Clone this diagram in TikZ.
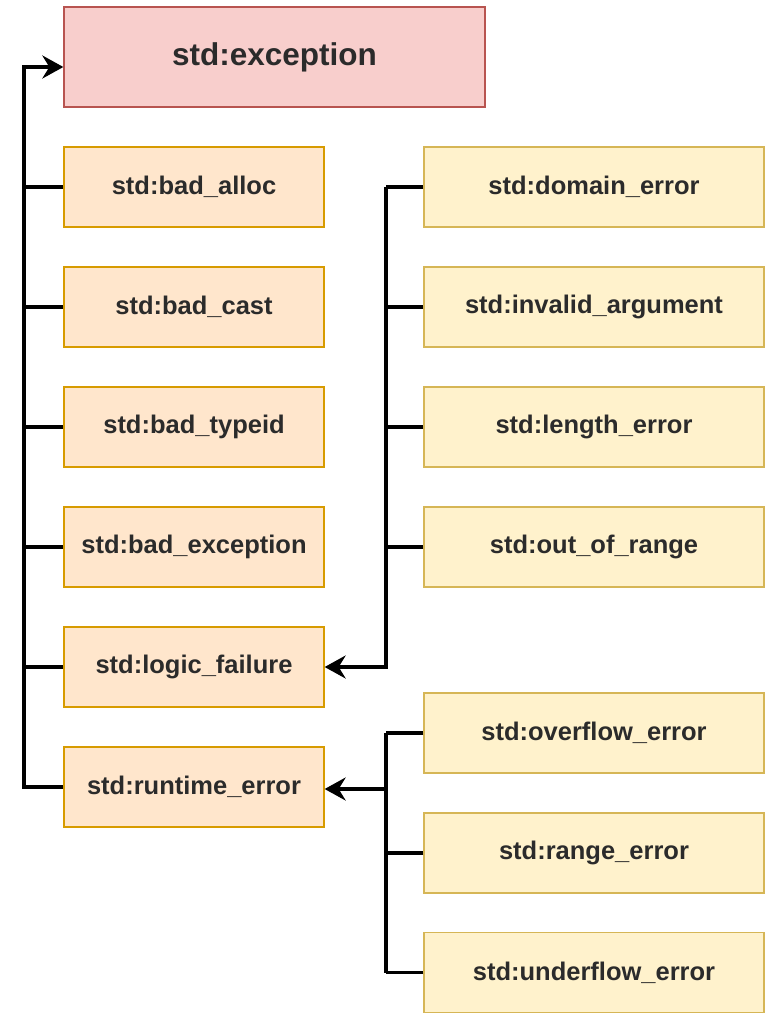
\documentclass[tikz,border=0pt]{standalone}
\usepackage{fontspec}
\setmainfont{Liberation Sans}
\usetikzlibrary{arrows.meta}
\definecolor{rootfill}{HTML}{F8CECC}
\definecolor{rootline}{HTML}{B85450}
\definecolor{midfill}{HTML}{FFE6CC}
\definecolor{midline}{HTML}{D79B00}
\definecolor{leaffill}{HTML}{FFF2CC}
\definecolor{leafline}{HTML}{D6B656}
\definecolor{txt}{HTML}{2B2B2B}
\begin{document}
\begin{tikzpicture}[x=1pt,y=-1pt,
  box/.style={draw, line width=1.3pt, inner sep=0pt, text=txt,
    font=\fontsize{25.5}{28}\selectfont\bfseries},
  rootbox/.style={box, fill=rootfill, draw=rootline,
    minimum width=421pt, minimum height=100pt,
    font=\fontsize{31.5}{35}\selectfont\bfseries},
  midbox/.style={box, fill=midfill, draw=midline,
    minimum width=260pt, minimum height=80pt},
  leafbox/.style={box, fill=leaffill, draw=leafline,
    minimum width=340pt, minimum height=80pt},
  link/.style={line width=3.3pt, black, line join=miter},
  tip/.style={-{Stealth[length=21pt,width=23pt,inset=7pt]}}
]
\useasboundingbox[fill=white] (0,0) rectangle (765,1013);

% root class
\node[rootbox] (exc) at (274.5,57) {std:exception};

% direct subclasses
\node[midbox] (alloc)   at (194,187) {std:bad\_alloc};
\node[midbox] (cast)    at (194,307) {std:bad\_cast};
\node[midbox] (typeid)  at (194,427) {std:bad\_typeid};
\node[midbox] (badexc)  at (194,547) {std:bad\_exception};
\node[midbox] (logic)   at (194,667) {std:logic\_failure\hspace{18pt}};
\node[midbox] (runtime) at (194,787) {std:runtime\_error};

% logic_failure subclasses
\node[leafbox] (domain)  at (594,187) {std:domain\_error};
\node[leafbox] (invalid) at (594,307) {std:invalid\_argument};
\node[leafbox] (length)  at (594,427) {std:length\_error};
\node[leafbox] (range)   at (594,547) {std:out\_of\_range};

% runtime_error subclasses
\node[leafbox] (over)    at (594,733) {std:overflow\_error};
\node[leafbox] (rerr)    at (594,853) {std:range\_error};
\node[leafbox] (under)   at (594,972.5) {std:underflow\_error};

% bus lines
\coordinate (lbus) at (24,0);
\coordinate (mbus) at (386,0);

% edges into std:exception
\foreach \n in {alloc,cast,typeid,badexc,logic}
  \draw[link] (\n.west) -- (\n.west -| lbus);
\draw[link, tip] (runtime.west) -- (runtime.west -| lbus)
  |- ([yshift=-10pt]exc.west);

% edges into std:logic_failure
\foreach \n in {domain,invalid,length,range}
  \draw[link] (\n.west) -- (\n.west -| mbus);
\draw[link, tip] (domain.west -| mbus) |- (logic.east);

% edges into std:runtime_error
\foreach \n in {over,rerr,under}
  \draw[link] (\n.west) -- (\n.west -| mbus);
\draw[link] (over.west -| mbus) -- (under.west -| mbus);
\draw[link, tip] ([yshift=-2pt]runtime.east -| mbus) -- ([yshift=-2pt]runtime.east);
\end{tikzpicture}
\end{document}
